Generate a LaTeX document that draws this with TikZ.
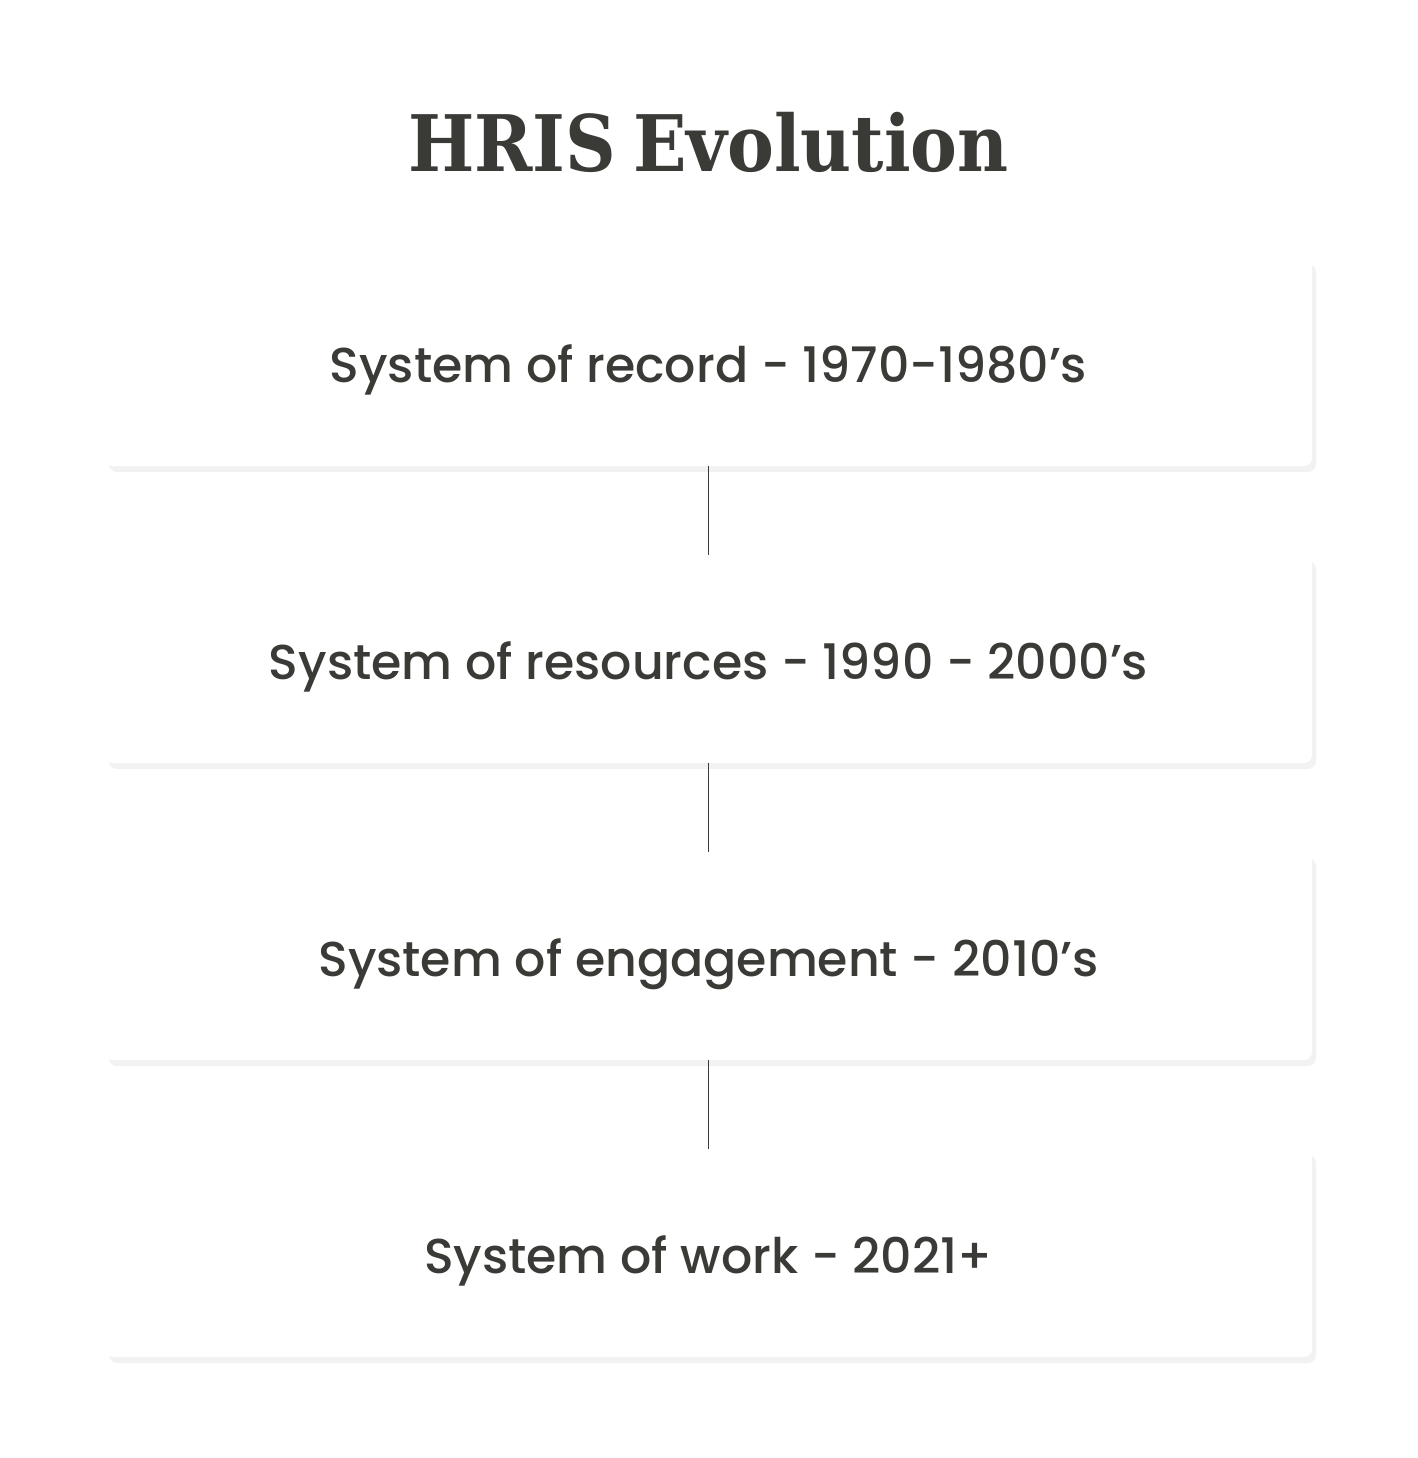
\documentclass[tikz,border=0pt]{standalone}
\usepackage{fontspec}
\setmainfont{Poppins Medium}
\newfontfamily\titlefont{DejaVu Serif Condensed}
\usetikzlibrary{shadows}
\definecolor{ink}{HTML}{3A3A36}
\tikzset{
  era/.style={fill=white, rounded corners=8pt, minimum width=1207pt, minimum height=208pt,
    inner sep=0pt, text=ink, text height=40pt, text depth=0pt, font=\fontsize{49}{55}\selectfont,
    drop shadow={shadow xshift=4pt, shadow yshift=-6pt, fill=black, opacity=0.05}},
  link/.style={draw=ink, line width=1.5pt}
}
\begin{document}
\begin{tikzpicture}[x=1pt,y=-1pt]
        \useasboundingbox[fill=white] (0,0) rectangle (1417,1458);
        \node[text=ink, font=\titlefont\bfseries\fontsize{78}{88}\selectfont] (title) at (708.5,142) {HRIS\hspace{-0.1em} Evolution};
        \node[era] (rec) at (708.5,362) {System of record - 1970-1980’s};
        \node[era] (res) at (708.5,659) {System of resources - 1990 - 2000’s};
        \node[era] (eng) at (708.5,956) {System of engagement - 2010’s};
        \node[era] (wrk) at (708.5,1253) {System of work - 2021+};
        \draw[link] (rec) edge (res) ;
        \draw[link] (res) edge (eng) ;
        \draw[link] (eng) edge (wrk) ;
      \end{tikzpicture}
\end{document}
